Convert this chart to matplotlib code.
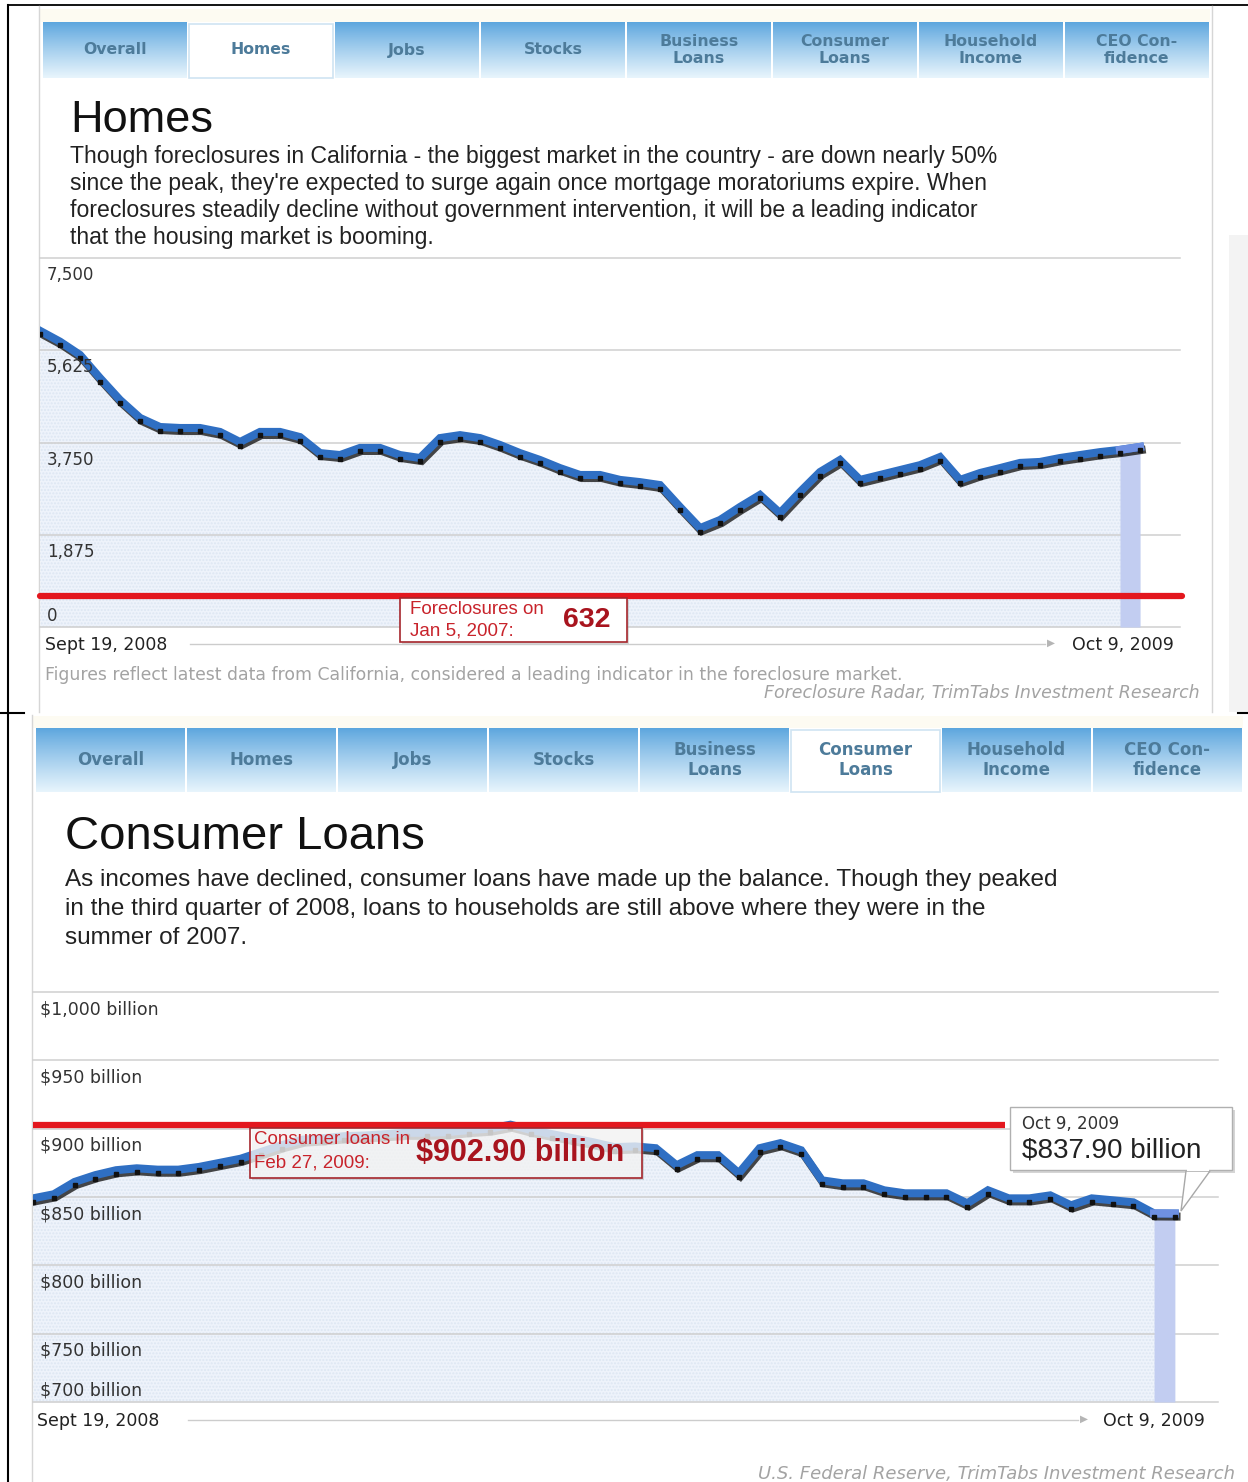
import numpy as np
import matplotlib.pyplot as plt
import matplotlib.patheffects as pe
from matplotlib.patches import Rectangle, Polygon
from matplotlib.transforms import offset_copy

W, H = 1248, 1482

tab_labels = ['Overall', 'Homes', 'Jobs', 'Stocks', 'Business\nLoans',
              'Consumer\nLoans', 'Household\nIncome', 'CEO Con-\nfidence']

# weekly California foreclosures, Sept 19 2008 -> Oct 9 2009
foreclosures = [6020, 5800, 5530, 5060, 4615, 4250, 4065, 4045, 4045, 3965,
                3760, 3965, 3965, 3860, 3535, 3495, 3640, 3640, 3495, 3435,
                3840, 3900, 3840, 3700, 3535, 3395, 3230, 3090, 3090, 2990,
                2945, 2885, 2440, 2010, 2175, 2440, 2685, 2315, 2745, 3150,
                3395, 2990, 3090, 3190, 3290, 3455, 2990, 3130, 3230, 3335,
                3355, 3435, 3495, 3555, 3600, 3660]
homes_ticks = [0, 1875, 3750, 5625, 7500]
homes_ticklabels = ['0', '1,875', '3,750', '5,625', '7,500']
homes_ref = 632  # Jan 5, 2007

# consumer loans ($ billion), same weeks
consumer_loans = [849.0, 852.0, 861.0, 866.0, 869.6, 871.0, 870.0, 870.0, 872.0, 875.0,
                  878.0, 883.0, 888.0, 892.0, 893.0, 894.5, 895.0, 896.0, 897.0, 897.0,
                  897.5, 899.0, 900.0, 902.9, 899.0, 896.0, 893.0, 890.0, 886.5, 887.0,
                  885.7, 873.2, 880.6, 880.6, 867.4, 885.7, 889.4, 884.2, 862.2, 860.0,
                  860.0, 854.9, 852.7, 852.7, 852.7, 845.4, 854.9, 849.0, 849.0, 851.2,
                  843.9, 849.0, 847.6, 846.1, 838.0, 837.9]
loan_ticks = [700, 750, 800, 850, 900, 950, 1000]
loan_ticklabels = ['$%d billion' % v if v < 1000 else '$1,000 billion' for v in loan_ticks]
loan_ref = 902.90  # Feb 27, 2009

ARIAL = 'Liberation Sans'
VERD = 'DejaVu Sans'

fig = plt.figure(figsize=(W / 100, H / 100), dpi=100)
bg = fig.add_axes([0, 0, 1, 1], zorder=0)
bg.axis('off')

t = np.linspace(0, 1, 80)[:, None, None]
top_c = np.array([0.36, 0.65, 0.87])
bot_c = np.array([0.91, 0.96, 0.99])
grad = top_c + (bot_c - top_c) * t ** 0.9


def draw_tabs(y0, y1, x0, w, active, fs):
    for i, lab in enumerate(tab_labels):
        a = x0 + i * w + 1
        b = x0 + (i + 1) * w - 1
        if i == active:
            bg.add_patch(Rectangle((a, y0 + 2), b - a, y1 - y0 - 2, fc='white',
                                   ec='#cfe4f2', lw=1.2, zorder=2))
        else:
            bg.imshow(grad, extent=(a, b, y1, y0), aspect='auto',
                      interpolation='bilinear', zorder=1)
        bg.text((a + b) / 2, (y0 + y1) / 2, lab, ha='center', va='center',
                fontsize=fs, fontweight='bold', color='#4d7b9a',
                linespacing=1.12, family=VERD, zorder=3)


# frames
bg.plot([8, 1248], [5, 5], color='black', lw=1.3)
bg.plot([8, 8], [5, 1482], color='black', lw=1.5)
bg.plot([0, 24], [713, 713], color='black', lw=1.5)
bg.plot([1238, 1248], [713, 713], color='black', lw=1.5)
bg.plot([39, 39], [6, 712], color='#d6d6d6', lw=1)
bg.plot([1212, 1212], [6, 712], color='#d6d6d6', lw=1)
bg.add_patch(Rectangle((1229, 235), 19, 477, fc='#f3f3f3', ec='none'))
bg.plot([32, 32], [715, 1482], color='#d6d6d6', lw=1)
bg.add_patch(Rectangle((40, 9), 1170, 13, fc='#fdfbf2', ec='none'))
bg.add_patch(Rectangle((33, 716), 1210, 12, fc='#fdfbf2', ec='none'))

draw_tabs(22, 78, 42, 146, 1, 11.3)
draw_tabs(728, 792, 35, 151, 5, 12)

# headings
bg.text(70, 121, 'Homes', fontsize=32.5, family=ARIAL, color='#111111', va='center')
bg.text(70, 197, "Though foreclosures in California - the biggest market in the country - are down nearly 50%\n"
        "since the peak, they're expected to surge again once mortgage moratoriums expire. When\n"
        "foreclosures steadily decline without government intervention, it will be a leading indicator\n"
        "that the housing market is booming.",
        fontsize=16.6, family=ARIAL, color='#222222', va='center', linespacing=1.24)
bg.text(65, 837, 'Consumer Loans', fontsize=34, family=ARIAL, color='#111111', va='center')
bg.text(65, 909, "As incomes have declined, consumer loans have made up the balance. Though they peaked\n"
        "in the third quarter of 2008, loans to households are still above where they were in the\n"
        "summer of 2007.",
        fontsize=17.5, family=ARIAL, color='#222222', va='center', linespacing=1.42)

# x-axis rows and sources
for y, xl, x_line0, x_line1, xr in [(645, 45, 190, 1045, 1072), (1421, 37, 188, 1078, 1103)]:
    bg.text(xl, y, 'Sept 19, 2008', fontsize=12.5, family=VERD, color='#222222', va='center')
    bg.plot([x_line0, x_line1], [y - 1, y - 1], color='#cccccc', lw=1)
    bg.text(x_line1 + 2, y - 2, '\u25B6', fontsize=7.5, family=VERD, color='#b5b5b5', va='center')
    bg.text(xr, y, 'Oct 9, 2009', fontsize=12.5, family=VERD, color='#222222', va='center')

bg.text(45, 675, 'Figures reflect latest data from California, considered a leading indicator in the foreclosure market.',
        fontsize=12.4, family=VERD, color='#a3a3a3', va='center')
bg.text(1200, 693, 'Foreclosure Radar, TrimTabs Investment Research', fontsize=12.5, family=VERD,
        style='italic', color='#a3a3a3', va='center', ha='right')
bg.text(1235, 1474, 'U.S. Federal Reserve, TrimTabs Investment Research', fontsize=13, family=VERD,
        style='italic', color='#a3a3a3', va='center', ha='right')

bg.set_xlim(0, W)
bg.set_ylim(H, 0)


def px_axes(x0, y0, x1, y1):
    return fig.add_axes([x0 / W, 1 - y1 / H, (x1 - x0) / W, (y1 - y0) / H], zorder=1)


def draw_series(ax, vals, ticks, labels, ref, ref_end, xmax, fs, cap):
    vals = np.asarray(vals, dtype=float)
    x = np.arange(len(vals))
    lo, hi = ticks[0], ticks[-1]
    ax.set_xlim(0, xmax)
    ax.set_ylim(lo, hi)
    ax.axis('off')
    ax.fill_between(x, vals, lo, color='#eef3fb', lw=0, zorder=1)
    ax.fill_between(x, vals, lo, facecolor='none', edgecolor='#dde6f3', hatch='.....', lw=0, zorder=1.1)
    for tv in ticks:
        ax.axhline(tv, color='#cfcfcf', lw=1.1, zorder=1.5, clip_on=False)
    ax.fill_between(x[-2:], vals[-2:], lo, color='#c2cdf1', lw=0, zorder=2)
    ax.plot(x, vals, color='#2f6fc3', lw=5.8, zorder=4, solid_joinstyle='miter',
            path_effects=[pe.SimpleLineShadow(offset=(1.2, -2.2), shadow_color='#1a1a1a', alpha=0.8),
                          pe.Normal()])
    ax.plot(x[-2:], vals[-2:], color='#6f90e2', lw=5.8, zorder=4.1)
    ax.plot(x, vals, 's', ms=2.2, color='#111111', zorder=4.2,
            transform=offset_copy(ax.transData, fig=fig, y=-3.5, units='dots'))
    ax.plot([0, ref_end], [ref, ref], color='#e3171e', lw=4.5, zorder=5,
            solid_capstyle=cap, clip_on=False)
    for tv, lab in zip(ticks, labels):
        if tv == lo:
            ax.annotate(lab, xy=(0, tv), xycoords=('axes fraction', 'data'), xytext=(7, 2),
                        textcoords='offset pixels', va='bottom', fontsize=fs, family=VERD,
                        color='#333333', zorder=6)
        else:
            ax.annotate(lab, xy=(0, tv), xycoords=('axes fraction', 'data'), xytext=(7, -8),
                        textcoords='offset pixels', va='top', fontsize=fs, family=VERD,
                        color='#333333', zorder=6)


ax1 = px_axes(40, 258, 1180, 627)
draw_series(ax1, foreclosures, homes_ticks, homes_ticklabels, homes_ref, 57.1, 57, 12, 'round')

ax2 = px_axes(33, 992, 1218, 1402)
draw_series(ax2, consumer_loans, loan_ticks, loan_ticklabels, loan_ref, 46.8, 57.08, 12.5, 'butt')

# overlay annotations
ov = fig.add_axes([0, 0, 1, 1], zorder=3)
ov.axis('off')
ov.set_xlim(0, W)
ov.set_ylim(H, 0)

ov.add_patch(Rectangle((402, 600), 227, 44, fc='#999999', alpha=0.35, ec='none'))
ov.add_patch(Rectangle((400, 598), 227, 44, fc='white', ec='#a5262c', lw=1.2))
ov.text(410, 610, 'Foreclosures on', fontsize=13.5, family=ARIAL, color='#c8232b', va='center')
ov.text(410, 631, 'Jan 5, 2007:', fontsize=13.5, family=ARIAL, color='#c8232b', va='center')
ov.text(587, 620, f'{homes_ref:,}', fontsize=20.5, family=ARIAL, fontweight='bold',
        color='#a8141e', va='center', ha='center')

ov.add_patch(Rectangle((252, 1130), 392, 50, fc='#888888', alpha=0.3, ec='none'))
ov.add_patch(Rectangle((250, 1128), 392, 50, fc=(1, 1, 1, 0.72), ec='#a5262c', lw=1.2))
ov.text(254, 1140, 'Consumer loans in', fontsize=13.5, family=ARIAL, color='#c8232b', va='center')
ov.text(254, 1163, 'Feb 27, 2009:', fontsize=13.5, family=ARIAL, color='#c8232b', va='center')
ov.text(520, 1153, f'${loan_ref:,.2f} billion', fontsize=22, family=ARIAL, fontweight='bold',
        color='#a8141e', va='center', ha='center')

ov.add_patch(Rectangle((1013, 1110), 222, 63, fc='#888888', alpha=0.35, ec='none'))
ov.add_patch(Polygon([(1186, 1171), (1210, 1171), (1181, 1211)], closed=True, fc='white',
                     ec='#a8a8a8', lw=1))
ov.add_patch(Rectangle((1010, 1107), 222, 63, fc='white', ec='#b0b0b0', lw=1))
ov.add_patch(Rectangle((1187, 1168), 22, 3, fc='white', ec='none'))
ov.text(1022, 1124, 'Oct 9, 2009', fontsize=12, family=VERD, color='#333333', va='center')
ov.text(1022, 1150, f'${consumer_loans[-1]:,.2f} billion', fontsize=20, family=ARIAL,
        color='#222222', va='center')

fig.savefig('out.png', dpi=100)
